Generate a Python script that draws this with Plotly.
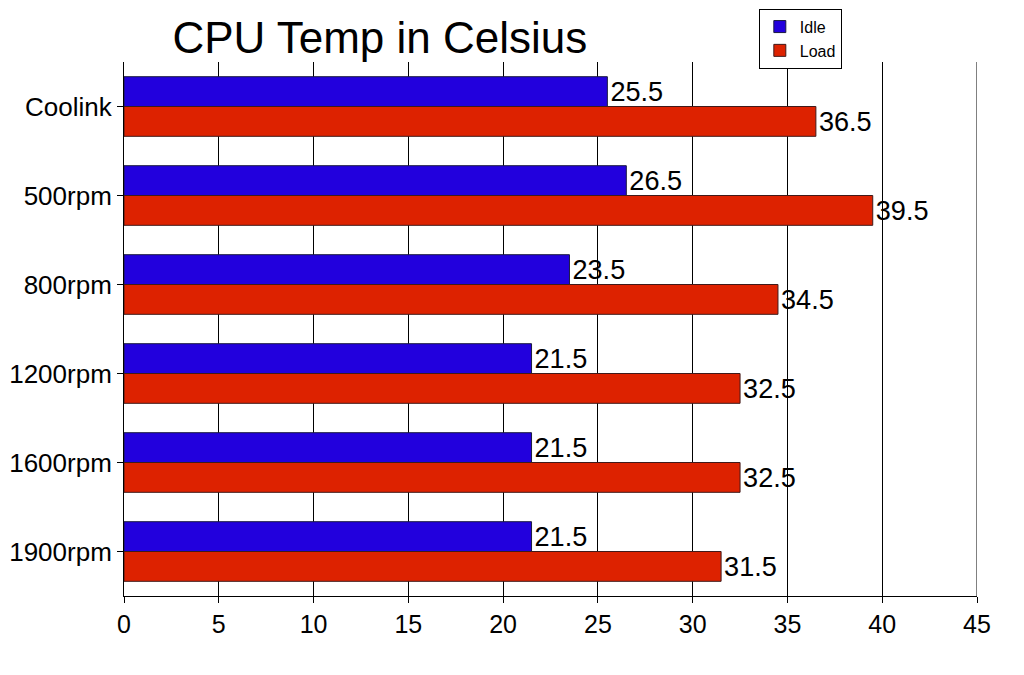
import plotly.graph_objects as go

categories = ['Coolink', '500rpm', '800rpm', '1200rpm', '1600rpm', '1900rpm']
idle = [25.5, 26.5, 23.5, 21.5, 21.5, 21.5]
load = [36.5, 39.5, 34.5, 32.5, 32.5, 31.5]
x_ticks = [0, 5, 10, 15, 20, 25, 30, 35, 40, 45]

fig = go.Figure()
fig.add_trace(go.Bar(
    y=categories, x=idle, name='Idle', orientation='h',
    marker=dict(color='#2200dd', line=dict(color='#1a1a40', width=1)),
    text=[f'{v:.1f}' for v in idle], textposition='outside',
    textfont=dict(size=30, color='black'), cliponaxis=False
))
fig.add_trace(go.Bar(
    y=categories, x=load, name='Load', orientation='h',
    marker=dict(color='#dd2200', line=dict(color='#401a1a', width=1)),
    text=[f'{v:.1f}' for v in load], textposition='outside',
    textfont=dict(size=30, color='black'), cliponaxis=False
))

# the page body adds an 8px offset, so the figure is a bit smaller
fig.update_layout(
    width=1016, height=667,
    barmode='group', bargap=0.33, bargroupgap=0,
    plot_bgcolor='white', paper_bgcolor='white',
    font=dict(family='Arial', size=26, color='black'),
    title=dict(text='CPU Temp in Celsius', font=dict(size=44, color='black'),
               x=0.366, xanchor='center', y=0.955, yanchor='middle'),
    xaxis=dict(
        range=[x_ticks[0], x_ticks[-1]], tickvals=x_ticks, showgrid=True,
        gridcolor='black', gridwidth=1,
        showline=True, linecolor='black', linewidth=1, ticks='outside', ticklen=6,
        tickcolor='black', zeroline=False, tickfont=dict(size=25), automargin=False
    ),
    yaxis=dict(
        autorange='reversed', showline=True, linecolor='black', linewidth=1,
        ticks='outside', ticklen=6, tickcolor='black', showgrid=False,
        tickfont=dict(size=26), automargin=False
    ),
    legend=dict(
        xref='container', yref='container',
        x=0.739, y=0.999, xanchor='left', yanchor='top',
        bordercolor='black', borderwidth=1, bgcolor='white',
        font=dict(size=16), traceorder='normal', tracegroupgap=0
    ),
    margin=dict(t=54, l=116, r=47, b=79, autoexpand=False),
    uniformtext=dict(mode=False)
)

# plotly skips the gridline at the range end, draw the last one by hand
fig.add_vline(x=x_ticks[-1], line_color='black', line_width=1, layer='below')

fig.write_html("out.html")
